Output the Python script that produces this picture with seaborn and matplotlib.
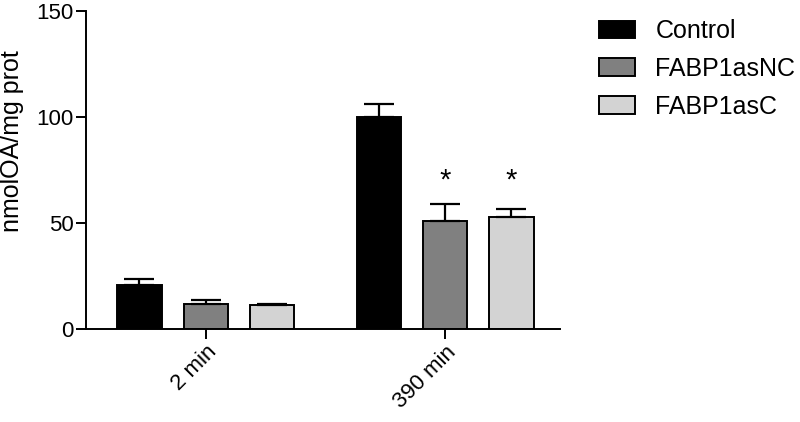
import numpy as np
import pandas as pd
import matplotlib.pyplot as plt
import seaborn as sns

sns.set_style("ticks")
plt.rcParams["font.family"] = ["Liberation Sans", "DejaVu Sans"]
plt.rcParams["text.color"] = "black"
plt.rcParams["axes.labelcolor"] = "black"
plt.rcParams["xtick.color"] = "black"
plt.rcParams["ytick.color"] = "black"

# values
times = ["2 min", "390 min"]
groups = ["Control", "FABP1asNC", "FABP1asC"]
means = {
    "Control": [20.6, 99.8],
    "FABP1asNC": [11.6, 51.1],
    "FABP1asC": [11.2, 53.0],
}
sems = {
    "Control": [2.8, 6.3],
    "FABP1asNC": [2.1, 8.0],
    "FABP1asC": [0.7, 3.8],
}
# significance stars (time, group)
stars = [("390 min", "FABP1asNC"), ("390 min", "FABP1asC")]
star_y = 70
colors = ["#000000", "#808080", "#d3d3d3"]

rows = []
for g in groups:
    for i, t in enumerate(times):
        rows.append({"time": t, "group": g, "value": means[g][i], "sem": sems[g][i]})
df = pd.DataFrame(rows)

fig, ax = plt.subplots(figsize=(8, 4.22), dpi=100)
fig.subplots_adjust(left=0.1075, right=0.70, bottom=0.2204, top=0.974)

sns.barplot(data=df, x="time", y="value", hue="group", order=times, hue_order=groups,
            palette=colors, width=0.83, gap=0.33, errorbar=None,
            edgecolor="black", linewidth=1.4, ax=ax)

# upper-only error bars, GraphPad style
for gi, g in enumerate(groups):
    for ti, t in enumerate(times):
        p = ax.containers[gi][ti]
        xc = p.get_x() + p.get_width() / 2
        ax.errorbar(xc, means[g][ti], yerr=[[0], [sems[g][ti]]], fmt="none",
                    ecolor="black", elinewidth=1.6, capsize=11, capthick=1.6)
        if (t, g) in stars:
            ax.text(xc, star_y, "*", ha="center", va="center", fontsize=21)

ax.set_ylim(0, 150)
ax.set_yticks([0, 50, 100, 150])
ax.set_xlim(-0.50, 1.48)
ax.set_xlabel("")
ax.set_ylabel("nmolOA/mg prot", fontsize=18)
ax.yaxis.set_label_coords(-0.131, 0.59)
ax.tick_params(axis="both", labelsize=16, width=1.4, length=7, color="black",
               labelcolor="black", pad=2)
plt.setp(ax.get_xticklabels(), rotation=45, ha="right", rotation_mode="anchor")
sns.despine(ax=ax)
for s in ["left", "bottom"]:
    ax.spines[s].set_linewidth(1.4)
    ax.spines[s].set_color("black")

leg = ax.legend(title=None, frameon=False, fontsize=18, loc="upper left",
                bbox_to_anchor=(1.035, 1.045), handlelength=1.45, handleheight=0.72,
                labelspacing=0.55, handletextpad=0.8)

plt.savefig("out.png")
